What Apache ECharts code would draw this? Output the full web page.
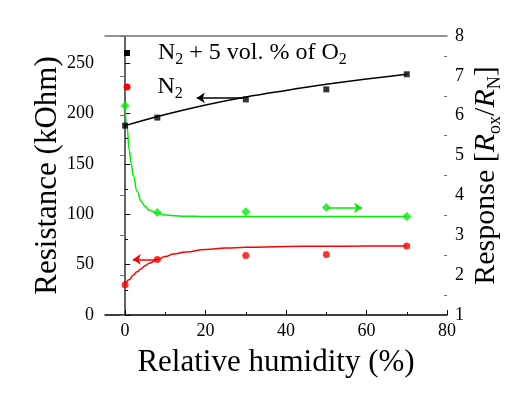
<!DOCTYPE html>
<html><head><meta charset="utf-8">
<script src="https://cdn.jsdelivr.net/npm/echarts@6/dist/echarts.min.js"></script>
<style>html,body{margin:0;padding:0;background:#fff}#c{width:518px;height:394px}</style>
</head><body><div id="c"></div>
<script>
// ---- data ----
const humidity = [0, 8, 30, 50, 70];
const resistanceO2 = [188, 196, 214, 224, 239];
const resistanceN2 = [30, 55, 59, 60, 68.5];
const responseVals = [6.25, 3.57, 3.59, 3.70, 3.47];

const fitO2X = [0, 10, 20, 30, 40, 50, 60, 70];
const fitO2Y = [188, 199, 208.5, 216.5, 223, 229, 234.3, 239];
const fitN2X = [0, 1, 2, 3, 4, 5, 6, 8, 10, 12, 15, 20, 25, 30, 40, 50, 60, 70];
const fitN2Y = [30, 35, 39.5, 43, 46, 49, 51.5, 55, 58, 60.5, 62.5, 65, 66.5, 67.2, 68, 68.3, 68.4, 68.5];
const fitRespX = [0, 0.5, 1, 1.5, 2, 3, 4, 5, 6, 8, 10, 12, 15, 20, 30, 70];
const fitRespY = [6.25, 5.7, 5.15, 4.8, 4.5, 4.1, 3.85, 3.72, 3.63, 3.55, 3.51, 3.49, 3.48, 3.47, 3.47, 3.47];

const arrowO2 = [[29.4, 215.5], [17.8, 215.5]];
const arrowN2 = [[7.9, 55.2], [1.9, 55.2]];
const arrowResp = [[50.2, 3.69], [58.9, 3.69]];

const xTicks = [0, 20, 40, 60, 80];
const xMinor = [10, 30, 50, 70];
const leftTicks = [0, 50, 100, 150, 200, 250];
const leftMinor = [25, 75, 125, 175, 225];
const rightTicks = [1, 2, 3, 4, 5, 6, 7, 8];
const rightMinor = [1.5, 2.5, 3.5, 4.5, 5.5, 6.5, 7.5];

const legendO2 = 'N2 + 5 vol. % of O2';
const legendN2 = 'N2';

// ---- styles ----
const FONT = "'Liberation Serif', 'Times New Roman', serif";
const X_MIN = -5, X_MAX = 80, L_MIN = 0, L_MAX = 277, R_MIN = 1, R_MAX = 8;
const pairs = (xs, ys) => xs.map((x, i) => [x, ys[i]]);
const legendRich = {
  sq: { width: 6, height: 6, backgroundColor: '#000', lineHeight: 30 },
  ci: { width: 7, height: 7, backgroundColor: '#ff0000', borderRadius: 3.5, lineHeight: 30 },
  g: { width: 28, lineHeight: 30 },
  g2: { width: 27, lineHeight: 30 },
  t: { fontFamily: FONT, fontSize: 24, color: '#000', lineHeight: 30 },
  s: { fontFamily: FONT, fontSize: 16, color: '#000', lineHeight: 14, verticalAlign: 'bottom' }
};
const nameRich = {
  t: { fontFamily: FONT, fontSize: 30, color: '#000', lineHeight: 36 },
  i: { fontFamily: FONT, fontSize: 30, color: '#000', fontStyle: 'italic', lineHeight: 36 },
  s: { fontFamily: FONT, fontSize: 18, color: '#000', lineHeight: 18, verticalAlign: 'bottom' }
};
const BLACK = '#000', GRAY = '#707070';

function arrowLine(pts, color) {
  return {
    silent: true, animation: false,
    symbol: ['none', 'arrow'], symbolSize: 8,
    label: { show: false },
    emphasis: { disabled: true },
    lineStyle: { color: color, width: 1.5, type: 'solid' },
    data: [[{ coord: pts[0] }, { coord: pts[1] }]]
  };
}

const chart = echarts.init(document.getElementById('c'));
chart.setOption({
  animation: false,
  backgroundColor: '#fff',
  textStyle: { fontFamily: FONT },
  grid: { left: 105, right: 71, top: 36, bottom: 79 },
  legend: [
    {
      data: [{ name: legendO2, icon: 'rect' }], left: 118, top: 41, padding: 0,
      itemWidth: 1, itemHeight: 1, itemStyle: { opacity: 0 }, selectedMode: false,
      formatter: () => '{sq|}{g|}{t|N}{s|2}{t| + 5 vol. % of O}{s|2}',
      textStyle: { rich: legendRich }
    },
    {
      data: [{ name: legendN2, icon: 'rect' }], left: 117.5, top: 75, padding: 0,
      itemWidth: 1, itemHeight: 1, itemStyle: { opacity: 0 }, selectedMode: false,
      formatter: () => '{ci|}{g2|}{t|N}{s|2}',
      textStyle: { rich: legendRich }
    }
  ],
  xAxis: [
    {
      type: 'value', position: 'bottom', min: X_MIN, max: X_MAX, interval: 5,
      axisLine: { lineStyle: { color: BLACK, width: 1.5 } },
      axisTick: { inside: true, length: 5, customValues: xTicks, lineStyle: { color: BLACK, width: 1 } },
      axisLabel: { show: false },
      splitLine: { show: false },
      name: 'Relative humidity (%)', nameLocation: 'middle', nameGap: 32, nameMoveOverlap: false,
      nameTextStyle: { fontFamily: FONT, fontSize: 31, color: '#000' }
    },
    {
      type: 'value', position: 'bottom', min: X_MIN, max: X_MAX,
      axisLine: { show: false },
      axisTick: { inside: true, length: 3, customValues: xMinor, lineStyle: { color: BLACK, width: 1 } },
      axisLabel: { show: false }, splitLine: { show: false }
    },
    {
      type: 'value', position: 'top', min: X_MIN, max: X_MAX,
      axisLine: { lineStyle: { color: GRAY, width: 1.5 } },
      axisTick: { show: false }, axisLabel: { show: false }, splitLine: { show: false }
    }
  ],
  yAxis: [
    {
      type: 'value', position: 'left', min: L_MIN, max: L_MAX, interval: 50,
      axisLine: { show: true, lineStyle: { color: BLACK, width: 1.5 } },
      axisTick: { show: true, inside: true, length: 5, customValues: leftTicks, lineStyle: { color: BLACK, width: 1 } },
      axisLabel: { show: false },
      splitLine: { show: false },
      name: 'Resistance (kOhm)', nameLocation: 'middle', nameGap: 42, nameRotate: 90, nameMoveOverlap: false,
      nameTextStyle: { fontFamily: FONT, fontSize: 31, color: '#000' }
    },
    {
      type: 'value', position: 'right', min: R_MIN, max: R_MAX, interval: 1,
      axisLine: { show: true, lineStyle: { color: GRAY, width: 1.5 } },
      axisTick: { show: true, inside: true, length: 5, customValues: rightTicks, lineStyle: { color: GRAY, width: 1 } },
      axisLabel: { show: false },
      splitLine: { show: false },
      name: '{t|Response [}{i|R}{s|ox}{t|/}{i|R}{s|N}{t|]}', nameLocation: 'middle', nameGap: 21, nameRotate: 90,
      nameMoveOverlap: false,
      nameTextStyle: { rich: nameRich }
    },
    {
      type: 'value', position: 'left', min: L_MIN, max: L_MAX,
      axisLine: { show: false },
      axisTick: { show: true, inside: true, length: 3, customValues: leftMinor, lineStyle: { color: BLACK, width: 1 } },
      axisLabel: { show: false }, splitLine: { show: false }
    },
    {
      type: 'value', position: 'right', min: R_MIN, max: R_MAX,
      axisLine: { show: false },
      axisTick: { show: true, inside: true, length: 3, customValues: rightMinor, lineStyle: { color: GRAY, width: 1 } },
      axisLabel: { show: false }, splitLine: { show: false }
    }
  ],
  series: [
    {
      name: 'fitO2', type: 'line', xAxisIndex: 0, yAxisIndex: 0, data: pairs(fitO2X, fitO2Y),
      showSymbol: false, smooth: 0.4, z: 2,
      lineStyle: { color: BLACK, width: 1.5 }, itemStyle: { color: BLACK },
      markLine: arrowLine(arrowO2, BLACK)
    },
    {
      name: 'fitN2', type: 'line', xAxisIndex: 0, yAxisIndex: 0, data: pairs(fitN2X, fitN2Y),
      showSymbol: false, smooth: true, smoothMonotone: 'x', z: 2,
      lineStyle: { color: '#ff0000', width: 1.5 }, itemStyle: { color: '#ff0000' },
      markLine: arrowLine(arrowN2, '#ff0000')
    },
    {
      name: 'fitResp', type: 'line', xAxisIndex: 0, yAxisIndex: 1, data: pairs(fitRespX, fitRespY),
      showSymbol: false, smooth: true, smoothMonotone: 'x', z: 2,
      lineStyle: { color: '#00ee00', width: 1.5 }, itemStyle: { color: '#00ee00' },
      markLine: arrowLine(arrowResp, '#00ee00')
    },
    {
      name: legendO2, type: 'scatter', xAxisIndex: 0, yAxisIndex: 0, data: pairs(humidity, resistanceO2),
      symbol: 'rect', symbolSize: 6, itemStyle: { color: BLACK }, z: 5
    },
    {
      name: legendN2, type: 'scatter', xAxisIndex: 0, yAxisIndex: 0, data: pairs(humidity, resistanceN2),
      symbol: 'circle', symbolSize: 7, itemStyle: { color: '#ff0000' }, z: 5
    },
    {
      name: 'response', type: 'scatter', xAxisIndex: 0, yAxisIndex: 1, data: pairs(humidity, responseVals),
      symbol: 'diamond', symbolSize: 9, itemStyle: { color: '#00ee00' }, z: 5
    }
  ]
});

// tick labels placed through the axes' own scales
const gfx = [];
const tickText = (v, pt, align, vAlign, dx, dy) => ({
  type: 'text', x: pt[0] + dx, y: pt[1] + dy, silent: true, z: 100,
  style: {
    text: String(v), fontFamily: 'Liberation Serif', fontSize: 18, fill: '#000',
    align: align, verticalAlign: vAlign
  }
});
xTicks.forEach(v => gfx.push(tickText(v, chart.convertToPixel({ xAxisIndex: 0, yAxisIndex: 0 }, [v, L_MIN]), 'center', 'top', 0, 7)));
leftTicks.forEach(v => gfx.push(tickText(v, chart.convertToPixel({ xAxisIndex: 0, yAxisIndex: 0 }, [X_MIN, v]), 'right', 'middle', -11, 0)));
rightTicks.forEach(v => gfx.push(tickText(v, chart.convertToPixel({ xAxisIndex: 0, yAxisIndex: 1 }, [X_MAX, v]), 'left', 'middle', 8, 0)));
chart.setOption({ graphic: gfx });
</script>
</body></html>
